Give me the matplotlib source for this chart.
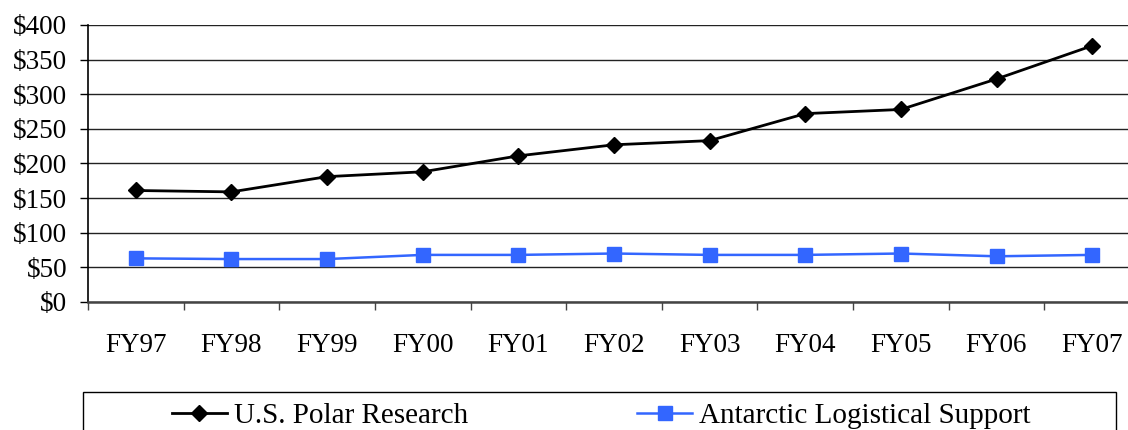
import matplotlib
matplotlib.use('Agg')
import matplotlib.pyplot as plt
from matplotlib.patches import Rectangle
from matplotlib.ticker import FuncFormatter

years = ['FY97', 'FY98', 'FY99', 'FY00', 'FY01', 'FY02', 'FY03', 'FY04', 'FY05', 'FY06', 'FY07']
polar_research = [161, 159, 181, 188, 211, 227, 233, 272, 278, 322, 370]
antarctic_support = [63, 62, 62, 68, 68, 70, 68, 68, 70, 66, 68]

plt.rcParams['font.family'] = ['Liberation Serif', 'DejaVu Serif']
plt.rcParams['font.size'] = 19.5

fig = plt.figure(figsize=(11.28, 4.30), dpi=100)
# plot area runs a little past the right edge, as in the original
ax = fig.add_axes([0.078, 0.2977, 0.9326, 0.6442])

x = list(range(len(years)))
ax.plot(x, polar_research, color='black', lw=2, marker='D', ms=8,
        label='U.S. Polar Research', zorder=3)
ax.plot(x, antarctic_support, color='#3366FF', lw=1.8, marker='s', ms=10.5,
        label='Antarctic Logistical Support', zorder=3)

ax.set_xlim(-0.5, len(years) - 0.5)
ax.set_ylim(0, 400)
ax.set_yticks(range(0, 401, 50))
ax.yaxis.set_major_formatter(FuncFormatter(lambda v, p: f'${int(v)}'))
ax.grid(axis='y', color='#222222', lw=1)
ax.set_axisbelow(True)

# category labels centred, tick marks on the boundaries
ax.set_xticks(x)
ax.set_xticklabels(years)
ax.tick_params(axis='x', which='major', length=0, pad=22)
ax.set_xticks([i - 0.5 for i in range(len(years) + 1)], minor=True)
ax.tick_params(axis='x', which='minor', length=6, width=1, color='#444444')
ax.tick_params(axis='y', length=6, width=1, pad=9)

for side in ['top', 'right']:
    ax.spines[side].set_visible(False)
ax.spines['left'].set_linewidth(1.2)
ax.spines['bottom'].set_linewidth(1.8)
ax.spines['bottom'].set_color('#444444')

# legend box runs off the bottom of the picture
box = Rectangle((0.0736, -0.05), 0.9154, 0.1384, transform=fig.transFigure,
                facecolor='white', edgecolor='black', lw=1)
fig.patches.append(box)
fig.legend(loc='center', bbox_to_anchor=(0.533, 0.033), ncol=2, frameon=False,
           handlelength=1.88, handletextpad=0.24, columnspacing=5.8, fontsize=21,
           borderpad=0)

fig.savefig('out.png', dpi=100)
